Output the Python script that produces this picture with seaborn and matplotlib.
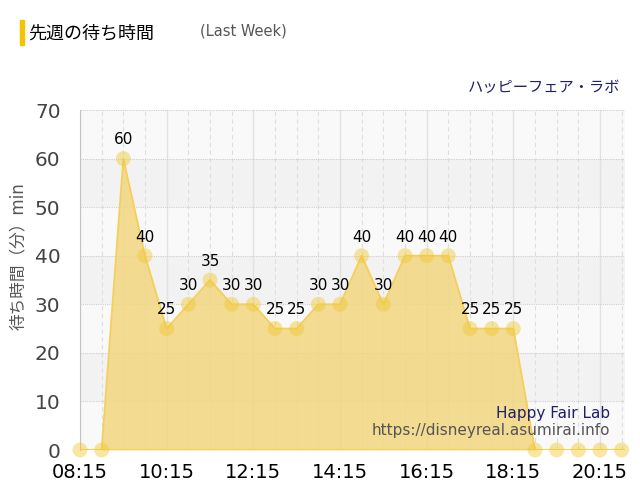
import matplotlib
matplotlib.use("Agg")
import matplotlib.pyplot as plt
import matplotlib.patches as mpatches
import seaborn as sns
import pandas as pd
import numpy as np

# data: wait time every 30 min, 08:15 .. 20:45
times = ["08:15", "08:45", "09:15", "09:45", "10:15", "10:45", "11:15", "11:45",
         "12:15", "12:45", "13:15", "13:45", "14:15", "14:45", "15:15", "15:45",
         "16:15", "16:45", "17:15", "17:45", "18:15", "18:45", "19:15", "19:45",
         "20:15", "20:45"]
waits = [0, 0, 60, 40, 25, 30, 35, 30, 30, 25, 25, 30, 30, 40, 30, 40,
         40, 40, 25, 25, 25, 0, 0, 0, 0, 0]
tick_labels = ["08:15", "10:15", "12:15", "14:15", "16:15", "18:15", "20:15"]


def to_min(t):
    h, m = t.split(":")
    return int(h) * 60 + int(m)


df = pd.DataFrame({"t": [to_min(t) for t in times], "wait": waits})

sns.set_style("white")
plt.rcParams["font.family"] = ["DejaVu Sans", "Noto Sans CJK JP"]

fig = plt.figure(figsize=(6.4, 5.0), dpi=100)
ax = fig.add_axes([0.125, 0.10, 0.852, 0.68])

# alternating background bands
for lo in range(0, 70, 10):
    c = "#f2f2f2" if (lo // 10) % 2 == 1 else "#f9f9f9"
    ax.axhspan(lo, lo + 10, color=c, zorder=0, lw=0)

gold = "#f0c832"
ax.fill_between(df["t"], df["wait"], 0, color="#f2d680", alpha=0.85, lw=0, zorder=2)
sns.lineplot(data=df, x="t", y="wait", ax=ax, color="#f5cf5a", lw=1.3, zorder=3)
sns.scatterplot(data=df, x="t", y="wait", ax=ax, color=gold, s=115, alpha=0.45,
                edgecolor="none", zorder=4, clip_on=False)

for t, w in zip(df["t"], df["wait"]):
    if w > 0:
        ax.text(t, w + 2.3, str(w), ha="center", va="bottom", fontsize=11,
                color="black", zorder=5)

t0 = to_min(times[0])
ax.set_xlim(t0, to_min(times[-1]) + 5)
ax.set_ylim(0, 70)
ax.set_xticks([to_min(t) for t in tick_labels])
ax.set_xticklabels(tick_labels, fontsize=14, color="black")
ax.set_xticks(df["t"], minor=True)
ax.set_yticks(range(0, 71, 10))
ax.tick_params(axis="y", labelsize=14.5, labelcolor="#444444", length=12,
               color="#e0e0e0", pad=2)
ax.tick_params(axis="x", which="both", length=0, pad=9)

ax.grid(axis="x", which="major", color="#e2e2e2", lw=1, zorder=1)
ax.grid(axis="x", which="minor", color="#dedede", lw=0.8, ls=(0, (4, 3)), zorder=1)
ax.grid(axis="y", color="#d0d0d0", lw=0.8, ls=(0, (1, 1)), zorder=1)
ax.set_axisbelow(True)

for s in ["top", "right", "bottom"]:
    ax.spines[s].set_visible(False)
ax.spines["left"].set_color("#c4c4c4")
ax.axhline(0, color="#f5cf5a", lw=1.5, zorder=3)

ax.set_xlabel("")
ax.set_ylabel("待ち時間（分）min", fontsize=12, color="#555555")
ax.yaxis.set_label_coords(-0.098, 0.57)

ax.text(0.972, 0.085, "Happy Fair Lab", transform=ax.transAxes, ha="right",
        va="bottom", fontsize=11, color="#1f1f6b")
ax.text(0.972, 0.035, "https://disneyreal.asumirai.info", transform=ax.transAxes,
        ha="right", va="bottom", fontsize=11, color="#555555")

# header
fig.patches.append(mpatches.Rectangle((20 / 640, 1 - 45 / 500), 4 / 640, 25 / 500,
                                      transform=fig.transFigure, color="#f5c400"))
fig.text(28 / 640, 1 - 33 / 500, "先週の待ち時間", fontsize=13, color="black",
         va="center", ha="left")
fig.text(200 / 640, 1 - 31 / 500, "(Last Week)", fontsize=10.5, color="#555555",
         va="center", ha="left")
fig.text(620 / 640, 1 - 87 / 500, "ハッピーフェア・ラボ", fontsize=11, color="#1f1f6b",
         va="center", ha="right")

fig.savefig("out.png", dpi=100)
